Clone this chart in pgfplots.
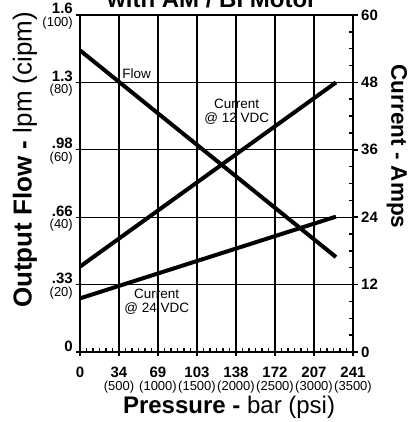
\documentclass[border=0pt]{standalone}
\usepackage{pgfplots}
\pgfplotsset{compat=1.18}
\usepackage{fontspec}
\setmainfont{Liberation Sans}
\newcommand{\bignum}[1]{{\fontsize{15}{16}\selectfont\bfseries #1}}
\newcommand{\smallnum}[1]{{\fontsize{13}{14}\selectfont #1}}
\newcommand{\xl}[2]{\vtop{\baselineskip=13pt\lineskiplimit=-20pt\lineskip=0pt\halign{\hfil##\hfil\cr\bignum{#1}\cr\smallnum{#2}\cr}}}
\newcommand{\yl}[2]{\vtop{\baselineskip=12.5pt\lineskiplimit=-20pt\lineskip=0pt\halign{\hfil##\cr\bignum{#1}\cr\smallnum{#2}\cr}}}
\begin{document}
\begin{tikzpicture}
\pgfplotsset{
  base/.style={width=273pt,height=337pt,scale only axis,
    xmin=0,xmax=3500,ymin=0,ymax=60,at={(0,0)},anchor=south west}
}
% minor ticks
\begin{axis}[base,
  axis line style={draw=none},
  xtick={0,500,...,3500}, xticklabels={},
  ytick={0,12,...,60}, yticklabels={},
  xtick pos=lower, ytick pos=right,
  major tick length=0pt,
  minor x tick num=5, minor y tick num=3,
  minor tick length=4pt, tick align=inside,
  minor tick style={line width=1.5pt,black},
]
\end{axis}
% right axis
\begin{axis}[base,
  axis x line=none, axis y line*=right,
  axis line style={line width=2.5pt},
  ytick={0,12,...,60},
  yticklabels={\bignum{0},\bignum{12},\bignum{24},\bignum{36},\bignum{48},\bignum{60}},
  tick align=outside, major tick length=5pt,
  tick style={line width=1.5pt,black},
  yticklabel style={anchor=west, inner sep=0pt, xshift=3pt},
]
\end{axis}
% main axis
\begin{axis}[base,
  axis line style={line width=2.5pt},
  xtick={0,500,...,3500},
  xticklabels={{\bignum{0}},{\xl{34}{(500)}},{\xl{69}{(1000)}},{\xl{103}{(1500)}},{\xl{138}{(2000)}},{\xl{172}{(2500)}},{\xl{207}{(3000)}},{\xl{241}{(3500)}}},
  ytick={0,12,...,60},
  yticklabels={{\bignum{0}},{\yl{.33}{(20)}},{\yl{.66}{(40)}},{\yl{.98}{(60)}},{\yl{1.3}{(80)}},{\yl{1.6}{(100)}}},
  xtick pos=lower, ytick pos=left,
  tick align=outside, major tick length=4pt,
  tick style={line width=1.3pt,black},
  grid=major, grid style={line width=1.2pt,black},
  xticklabel style={anchor=base, inner sep=0pt, yshift=-21pt},
  yticklabel style={anchor=base east, inner sep=0pt, xshift=-3pt, yshift=1pt},
  clip mode=individual,
]
\addplot[black, line width=4pt] coordinates {(0,53.7) (3282,16.9)};
\addplot[black, line width=4pt] coordinates {(0,15.2) (3282,48.0)};
\addplot[black, line width=4pt] coordinates {(0,9.55) (3282,24.1)};
\node[font=\fontsize{13.5}{14}\selectfont] at (axis cs:727,49.6) {Flow};
\node[font=\fontsize{13.5}{14}\selectfont, align=center] at (axis cs:2009,42.8) {Current\\@ 12 VDC};
\node[font=\fontsize{13.5}{14}\selectfont, align=center] at (axis cs:983,8.96) {Current\\@ 24 VDC};
\node[anchor=base, font=\fontsize{24}{26}\selectfont\bfseries] at ([yshift=7pt]rel axis cs:0.483,1) {with AM / BI Motor};
\node[anchor=base, font=\fontsize{24}{26}\selectfont] at ([yshift=-61pt]rel axis cs:0.546,0) {\textbf{Pressure -} bar (psi)};
\node[rotate=90, anchor=center, font=\fontsize{26}{28}\selectfont] at ([xshift=-55pt]rel axis cs:0,0.57) {\textbf{Output Flow -} lpm (cipm)};
\node[rotate=-90, anchor=center, font=\fontsize{22.5}{24}\selectfont\bfseries] at ([xshift=44pt]rel axis cs:1,0.61) {Current - Amps};
\coordinate (bl) at (rel axis cs:0,0);
\coordinate (tr) at (rel axis cs:1,1);
\end{axis}
\pgfresetboundingbox
\path[use as bounding box] ([shift={(-80pt,-70pt)}]bl) rectangle ([shift={(62pt,15pt)}]tr);
\end{tikzpicture}
\end{document}
